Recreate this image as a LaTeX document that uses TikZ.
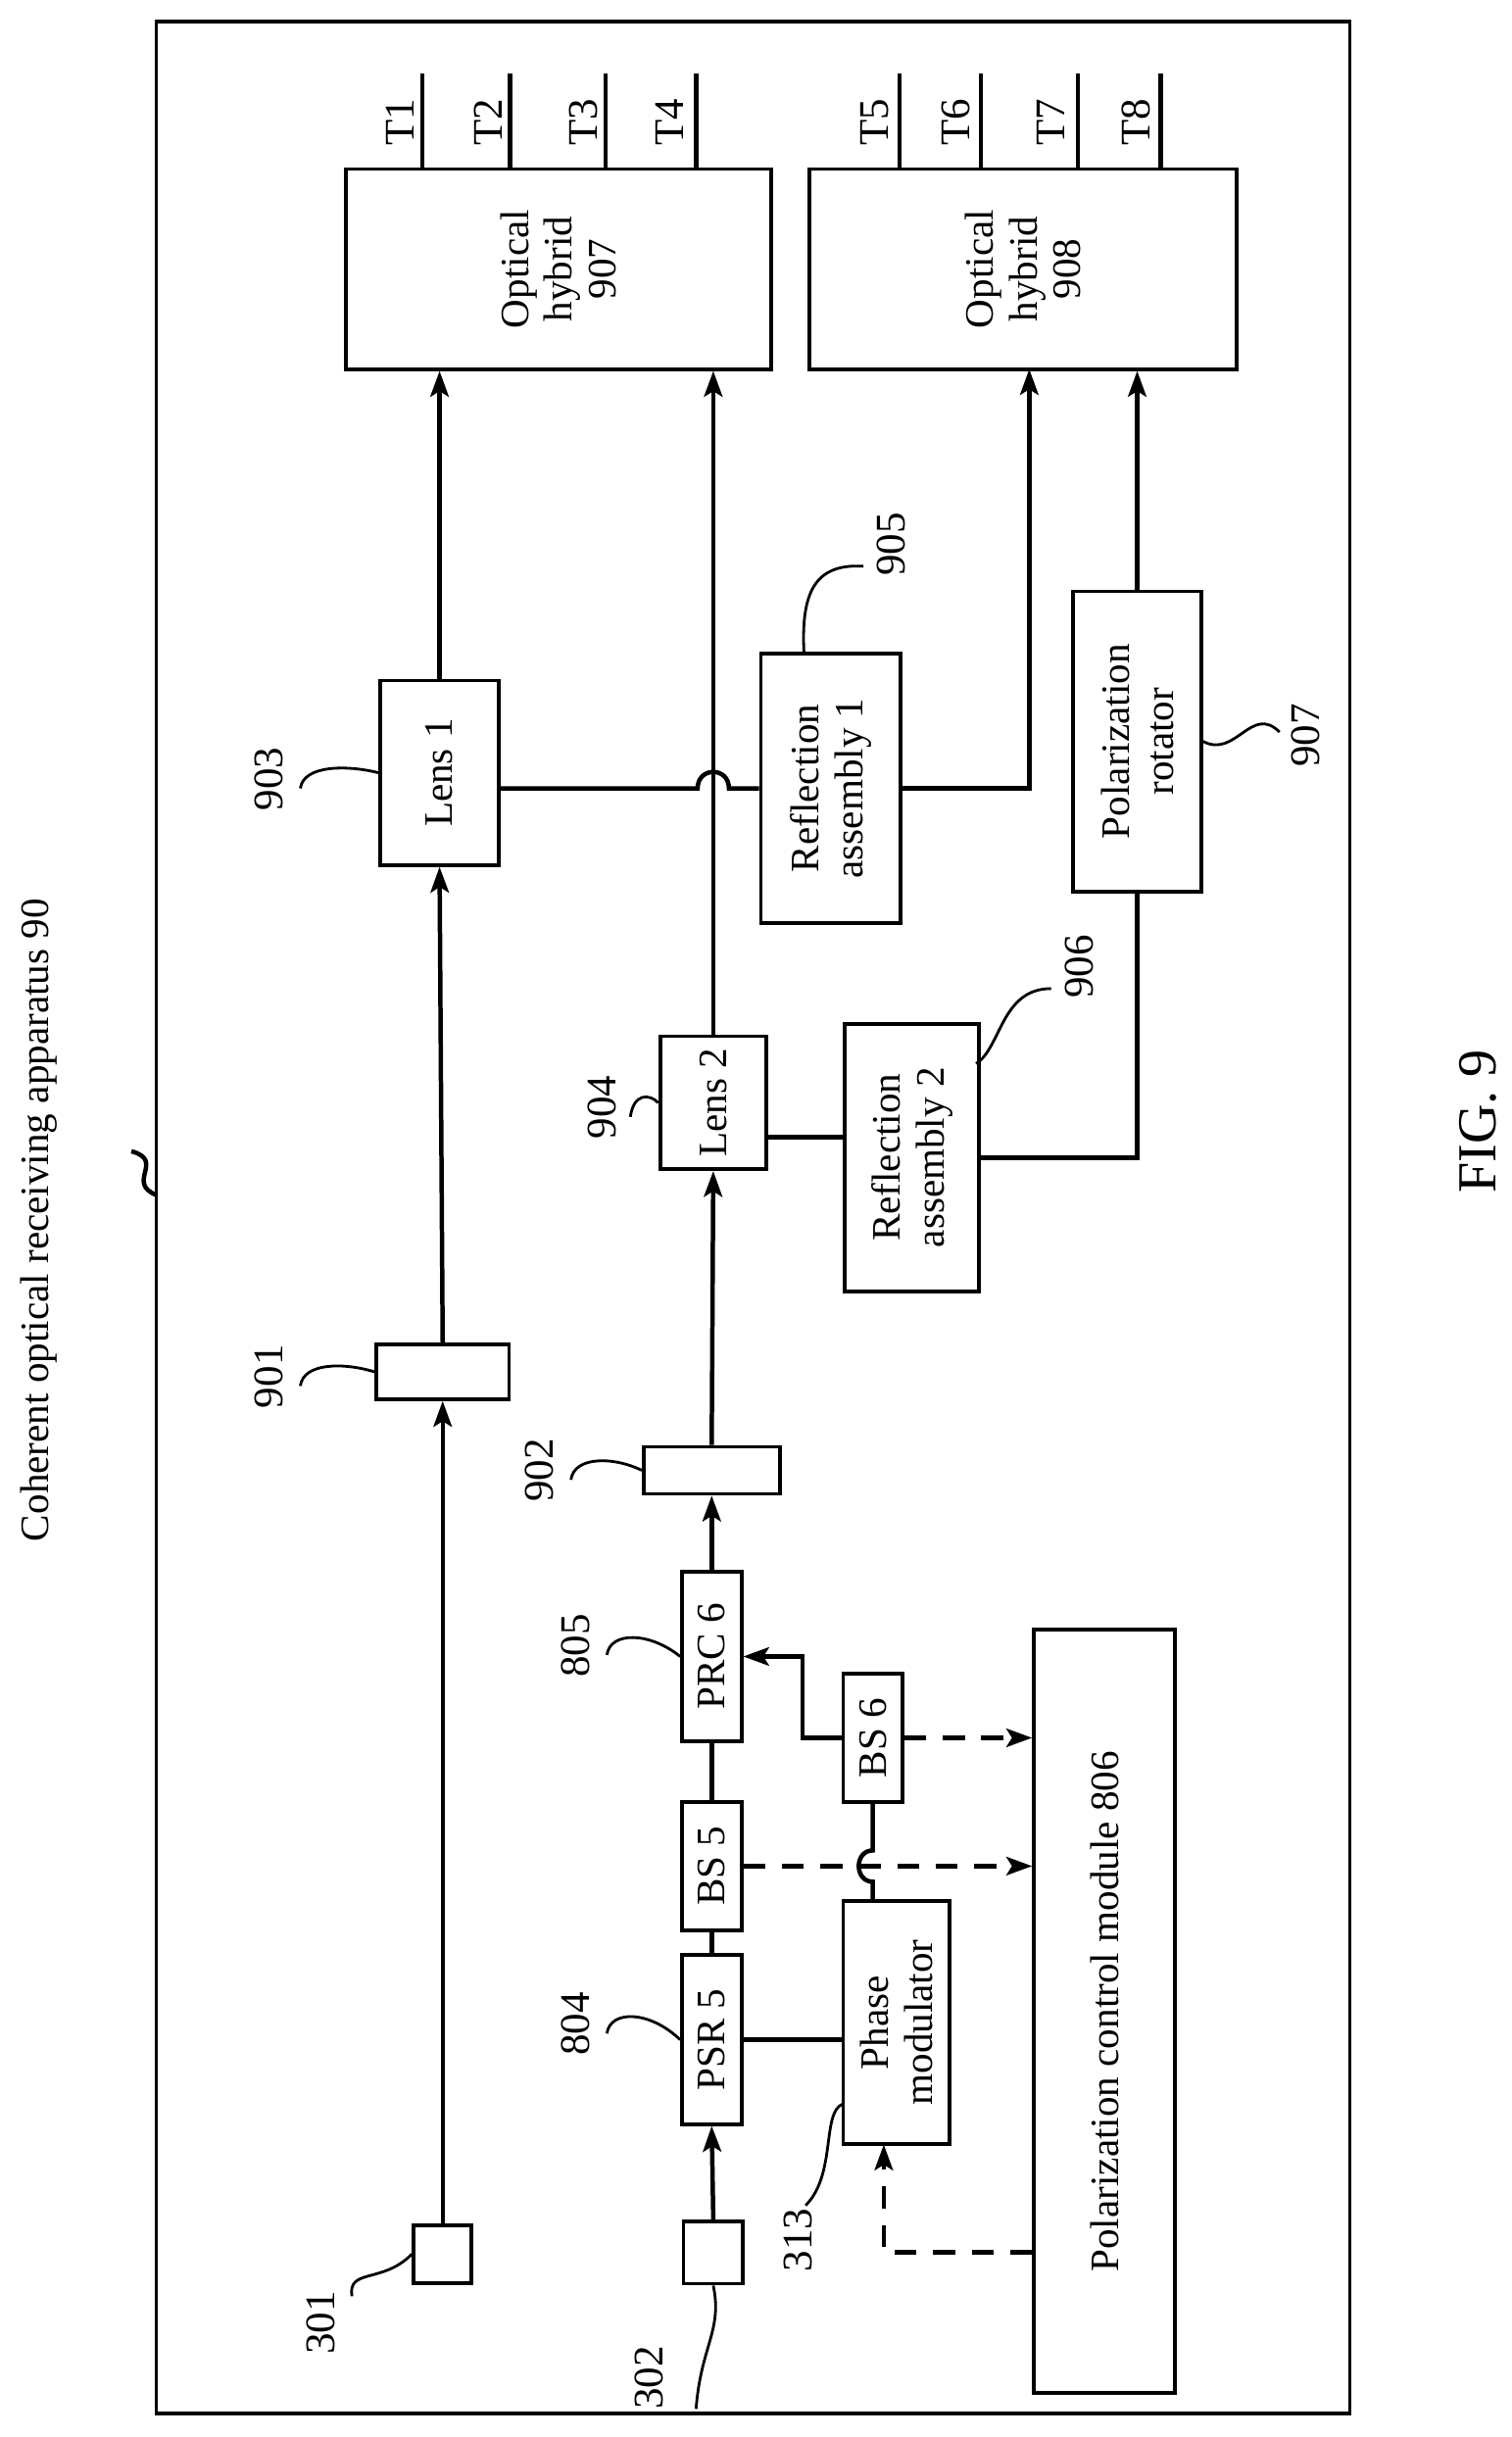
\documentclass[tikz,border=0pt]{standalone}
\usepackage{fontspec}
\setmainfont{Liberation Serif}
\usetikzlibrary{arrows.meta}
\tikzset{
  blk/.style={draw, rotate=90, line width=2pt, align=center, inner sep=0pt,
    font=\fontsize{22}{24}\selectfont},
  num/.style={rotate=90, inner sep=1pt, font=\fontsize{23}{25}\selectfont},
  arr/.style={-{Stealth[length=14pt,width=10pt,inset=3pt]}},
  dsh/.style={dash pattern=on 12pt off 9pt},
  sq/.style={line width=1.5pt},
}
\begin{document}
\begin{tikzpicture}[x=0.03cm, y=-0.03cm, line width=2.4pt]
\useasboundingbox (0,0) rectangle (966,1558);
\draw[line width=2pt] (100,14) rectangle (863,1543);
\node[rotate=90, font=\fontsize{22}{24}\selectfont] (title) at (25,780) {Coherent optical receiving apparatus 90};
\draw[line width=2.4pt] (84,736) .. controls (106,742) and (80,756) .. (100,764);
\node[rotate=90, font=\fontsize{30}{32}\selectfont] (fig) at (945,717) {FIG. 9};
% upper branch
\node[blk, minimum width=1.11cm, minimum height=1.11cm] (B301) at (283,1441) {};
\node[blk, minimum width=1.05cm, minimum height=2.55cm] (B901) at (283,877) {};
\node[blk, minimum width=3.54cm, minimum height=2.28cm] (Lens1) at (281,494) {Lens 1};
\node[blk, minimum width=3.84cm, minimum height=8.16cm] (H907) at (357,172) {Optical\\hybrid\\907};
\node[blk, minimum width=3.84cm, minimum height=8.19cm] (H908) at (654,172) {Optical\\hybrid\\908};
\node[blk, minimum width=5.16cm, minimum height=2.67cm] (RA1) at (531,504) {Reflection\\assembly 1};
\draw[arr] (B301.east) -- (B901.west);
\draw[arr] (B901.east) -- (Lens1.west);
\draw[arr] (Lens1.east) -- (Lens1.east |- H907.west);
\draw (Lens1.south |- RA1) -- (446,504) .. controls (446,490) and (466,490) .. (466,504) -- (RA1.north);
\coordinate (H908_a) at (658,236);
\draw[arr] (RA1.south) -| (H908_a);
% lower branch
\node[blk, minimum width=1.2cm, minimum height=1.14cm] (B302) at (456,1440) {};
\node[blk, minimum width=3.24cm, minimum height=1.14cm] (PSR5) at (455,1304) {PSR 5};
\node[blk, minimum width=2.46cm, minimum height=1.14cm] (BS5) at (455,1193) {BS 5};
\node[blk, minimum width=3.24cm, minimum height=1.14cm] (PRC6) at (455,1059) {PRC 6};
\node[blk, minimum width=0.9cm, minimum height=2.61cm] (B902) at (455,940) {};
\node[blk, minimum width=2.55cm, minimum height=2.04cm] (Lens2) at (456,705) {Lens 2};
\node[blk, minimum width=5.13cm, minimum height=2.58cm] (RA2) at (583,740) {Reflection\\assembly 2};
\node[blk, minimum width=5.76cm, minimum height=2.46cm] (PR) at (727,474) {Polarization\\rotator};
\node[blk, minimum width=4.65cm, minimum height=2.04cm] (PM) at (573,1293) {Phase\\modulator};
\node[blk, minimum width=2.46cm, minimum height=1.14cm] (BS6) at (558,1111) {BS 6};
\node[blk, minimum width=14.64cm, minimum height=2.7cm] (PCM) at (706,1286) {Polarization control module 806};
\draw[arr] (B302.east) -- (PSR5.west);
\draw (PSR5.east) -- (BS5.west);
\draw (BS5.east) -- (PRC6.west);
\draw[arr] (PRC6.east) -- (B902.west);
\draw[arr] (B902.east) -- (Lens2.west);
\draw[arr] (Lens2.east) -- (Lens2.east |- H907.west);
\draw (Lens2.south |- 0,727) -- (RA2.north |- 0,727);
\draw (RA2.south) -| (PR.west);
\draw[arr] (PR.east) -- (PR.east |- H908.west);
\draw (PSR5.south) -- (PSR5.south -| PM.north);
\draw[arr] (BS6.north) -- (513,1111) |- (PRC6.south);
\draw (PM.east -| BS6) -- (558,1203) .. controls (546,1203) and (546,1183) .. (558,1183) -- (BS6.west);
\draw[arr, dsh] (BS5.south) -- (BS5.south -| PCM.north);
\draw[arr, dsh] (BS6.south) -- (BS6.south -| PCM.north);
\draw[arr, dsh] (PCM.north |- 0,1440) -- (565,1440) -- (565,1371);
% outputs
\draw (270,108) -- (270,47);
\node[num] (T1) at (256,78) {T1};
\draw (326,108) -- (326,47);
\node[num] (T2) at (312,78) {T2};
\draw (387,108) -- (387,47);
\node[num] (T3) at (373,78) {T3};
\draw (445,108) -- (445,47);
\node[num] (T4) at (428,78) {T4};
\draw (575,108) -- (575,47);
\node[num] (T5) at (559,78) {T5};
\draw (627,108) -- (627,47);
\node[num] (T6) at (611,78) {T6};
\draw (689,108) -- (689,47);
\node[num] (T7) at (672,78) {T7};
\draw (742,108) -- (742,47);
\node[num] (T8) at (726,78) {T8};
% reference numerals
\node[num] (L301) at (205,1485) {301};
\draw[sq] (225,1468) .. controls (222,1450) and (245,1460) .. (B301.north);
\node[num] (L302) at (415,1520) {302};
\draw[sq] (B302.west) .. controls (462,1490) and (448,1500) .. (445,1540);
\node[num] (L804) at (368,1294) {804};
\draw[sq] (388,1300) .. controls (390,1285) and (415,1285) .. (PSR5.north);
\node[num] (L805) at (368,1052) {805};
\draw[sq] (388,1058) .. controls (390,1043) and (415,1043) .. (PRC6.north);
\node[num] (L902) at (345,940) {902};
\draw[sq] (365,946) .. controls (367,931) and (392,931) .. (B902.north);
\node[num] (L901) at (172,880) {901};
\draw[sq] (192,886) .. controls (194,871) and (220,871) .. (B901.north);
\node[num] (L903) at (172,498) {903};
\draw[sq] (192,504) .. controls (194,489) and (222,489) .. (Lens1.north);
\node[num] (L904) at (385,708) {904};
\draw[sq] (403,714) .. controls (405,699) and (415,699) .. (Lens2.north);
\node[num] (L905) at (570,348) {905};
\draw[sq] (552,362) .. controls (520,360) and (512,380) .. (514,418);
\node[num] (L906) at (690,618) {906};
\draw[sq] (672,632) .. controls (640,632) and (640,670) .. (624,680);
\node[num] (L907) at (835,470) {907};
\draw[sq] (818,468) .. controls (800,450) and (790,485) .. (PR.south);
\node[num] (L313) at (510,1432) {313};
\draw[sq] (515,1410) .. controls (535,1390) and (525,1350) .. (539,1345);
\end{tikzpicture}
\end{document}
